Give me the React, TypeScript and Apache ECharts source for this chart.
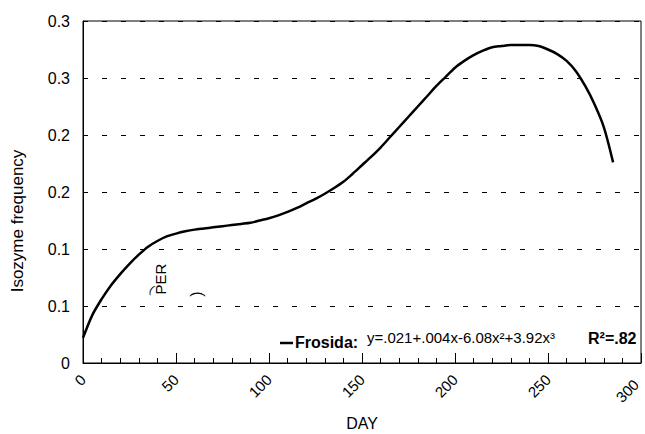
import React, { useEffect, useRef } from "react";
import * as echarts from "echarts";

const days = [0, 5, 10, 15, 20, 25, 30, 35, 40, 45, 50, 55, 60, 65, 70, 75, 80, 85, 90, 95, 100, 105, 110, 115, 120, 125, 130, 135, 140, 145, 150, 155, 160, 165, 170, 175, 180, 185, 190, 195, 200, 205, 210, 215, 220, 225, 230, 235, 240, 245, 250, 255, 260, 265, 270, 275, 280, 285];
const frosida = [0.022, 0.042, 0.056, 0.068, 0.078, 0.087, 0.095, 0.102, 0.107, 0.111, 0.1135, 0.1155, 0.117, 0.118, 0.119, 0.12, 0.121, 0.122, 0.123, 0.125, 0.127, 0.1295, 0.1325, 0.136, 0.14, 0.144, 0.1485, 0.1535, 0.159, 0.166, 0.1735, 0.181, 0.189, 0.198, 0.207, 0.216, 0.225, 0.234, 0.243, 0.251, 0.259, 0.265, 0.27, 0.274, 0.277, 0.278, 0.279, 0.279, 0.279, 0.278, 0.275, 0.271, 0.265, 0.256, 0.243, 0.227, 0.207, 0.176];
const xTicks = { min: 0, max: 300, interval: 50 };
const yTicks = { min: 0, max: 0.3, interval: 0.05 };
const seriesName = "Frosida:";
const equation = "y=.021+.004x-6.08x²+3.92x³";
const rSquared = "R²=.82";
const xName = "DAY";
const yName = "Isozyme frequency";

const FONT = "'Liberation Sans', Arial, sans-serif";

export default function App() {
  const ref = useRef<HTMLDivElement>(null);
  useEffect(() => {
    if (!ref.current) return;
    const chart = echarts.init(ref.current, undefined, { renderer: "svg" });
    chart.setOption({
      animation: false,
      backgroundColor: "#fff",
      grid: { left: 83, right: 4, top: 21, bottom: 71, show: true, borderColor: "#000", borderWidth: 1, containLabel: false, outerBoundsMode: "none" },
      xAxis: {
        type: "value",
        min: xTicks.min,
        max: xTicks.max,
        interval: xTicks.interval,
        name: xName,
        nameLocation: "middle",
        nameGap: 52,
        nameTextStyle: { fontFamily: FONT, fontSize: 16, color: "#000" },
        axisLine: { show: true, lineStyle: { color: "#000", width: 1 } },
        axisTick: { show: true, inside: true, length: 10, lineStyle: { color: "#000" } },
        minorTick: { show: true, splitNumber: 5, length: 5, lineStyle: { color: "#000" } },
        axisLabel: {
          rotate: 45,
          margin: 14,
          fontFamily: FONT,
          fontSize: 15,
          color: "#000",
          formatter: (v: number) => (v === xTicks.max ? `{e|${v}}` : `${v}`),
          rich: { e: { fontFamily: FONT, fontSize: 15, color: "#000", padding: [0, 7, 0, 0] } },
        },
        splitLine: { show: false },
      },
      yAxis: {
        type: "value",
        min: yTicks.min,
        max: yTicks.max,
        interval: yTicks.interval,
        axisLine: { show: true, lineStyle: { color: "#000", width: 1 } },
        axisTick: { show: true, inside: true, length: 4, lineStyle: { color: "#000" } },
        axisLabel: {
          margin: 13,
          fontFamily: FONT,
          fontSize: 16,
          color: "#000",
          formatter: (v: number) => (Math.abs(v) < 1e-9 ? "0" : (Math.round(v * 10 + 1e-9) / 10).toFixed(1)),
        },
        splitLine: { show: true, lineStyle: { color: "#000", width: 1, type: [5, 14] } },
      },
      series: [
        {
          type: "line",
          name: seriesName,
          data: days.map((d, i) => [d, frosida[i]]),
          smooth: 0.3,
          symbol: "none",
          lineStyle: { color: "#000", width: 2.5 },
        },
      ],
      graphic: [
        { type: "text", x: 17, y: 221, rotation: Math.PI / 2, style: { text: yName, font: `17px ${FONT}`, fill: "#000", align: "center", verticalAlign: "middle" } },
        { type: "line", shape: { x1: 280, y1: 343, x2: 293, y2: 343 }, style: { stroke: "#000", lineWidth: 2.5 } },
        { type: "text", x: 295, y: 342, style: { text: seriesName, font: `bold 16px ${FONT}`, fill: "#000", verticalAlign: "middle" } },
        { type: "text", x: 367, y: 337, style: { text: equation, font: `15px ${FONT}`, fill: "#000", verticalAlign: "middle" } },
        { type: "text", x: 588, y: 338, style: { text: rSquared, font: `bold 16px ${FONT}`, fill: "#000", verticalAlign: "middle" } },
        { type: "text", x: 160, y: 279, rotation: Math.PI / 2, style: { text: "PER", font: `15px ${FONT}`, fill: "#000", align: "center", verticalAlign: "middle" } },
        { type: "text", x: 152, y: 289, rotation: -0.5, style: { text: "(", font: `11px ${FONT}`, fill: "#000", align: "center", verticalAlign: "middle" } },
        { type: "text", x: 196, y: 294, rotation: Math.PI / 2, style: { text: ")", font: `16px ${FONT}`, fill: "#000", align: "center", verticalAlign: "middle" } },
      ],
    });
    return () => chart.dispose();
  }, []);
  return <div ref={ref} style={{ width: 645, height: 434, position: "absolute", left: 0, top: 0 }} />;
}
